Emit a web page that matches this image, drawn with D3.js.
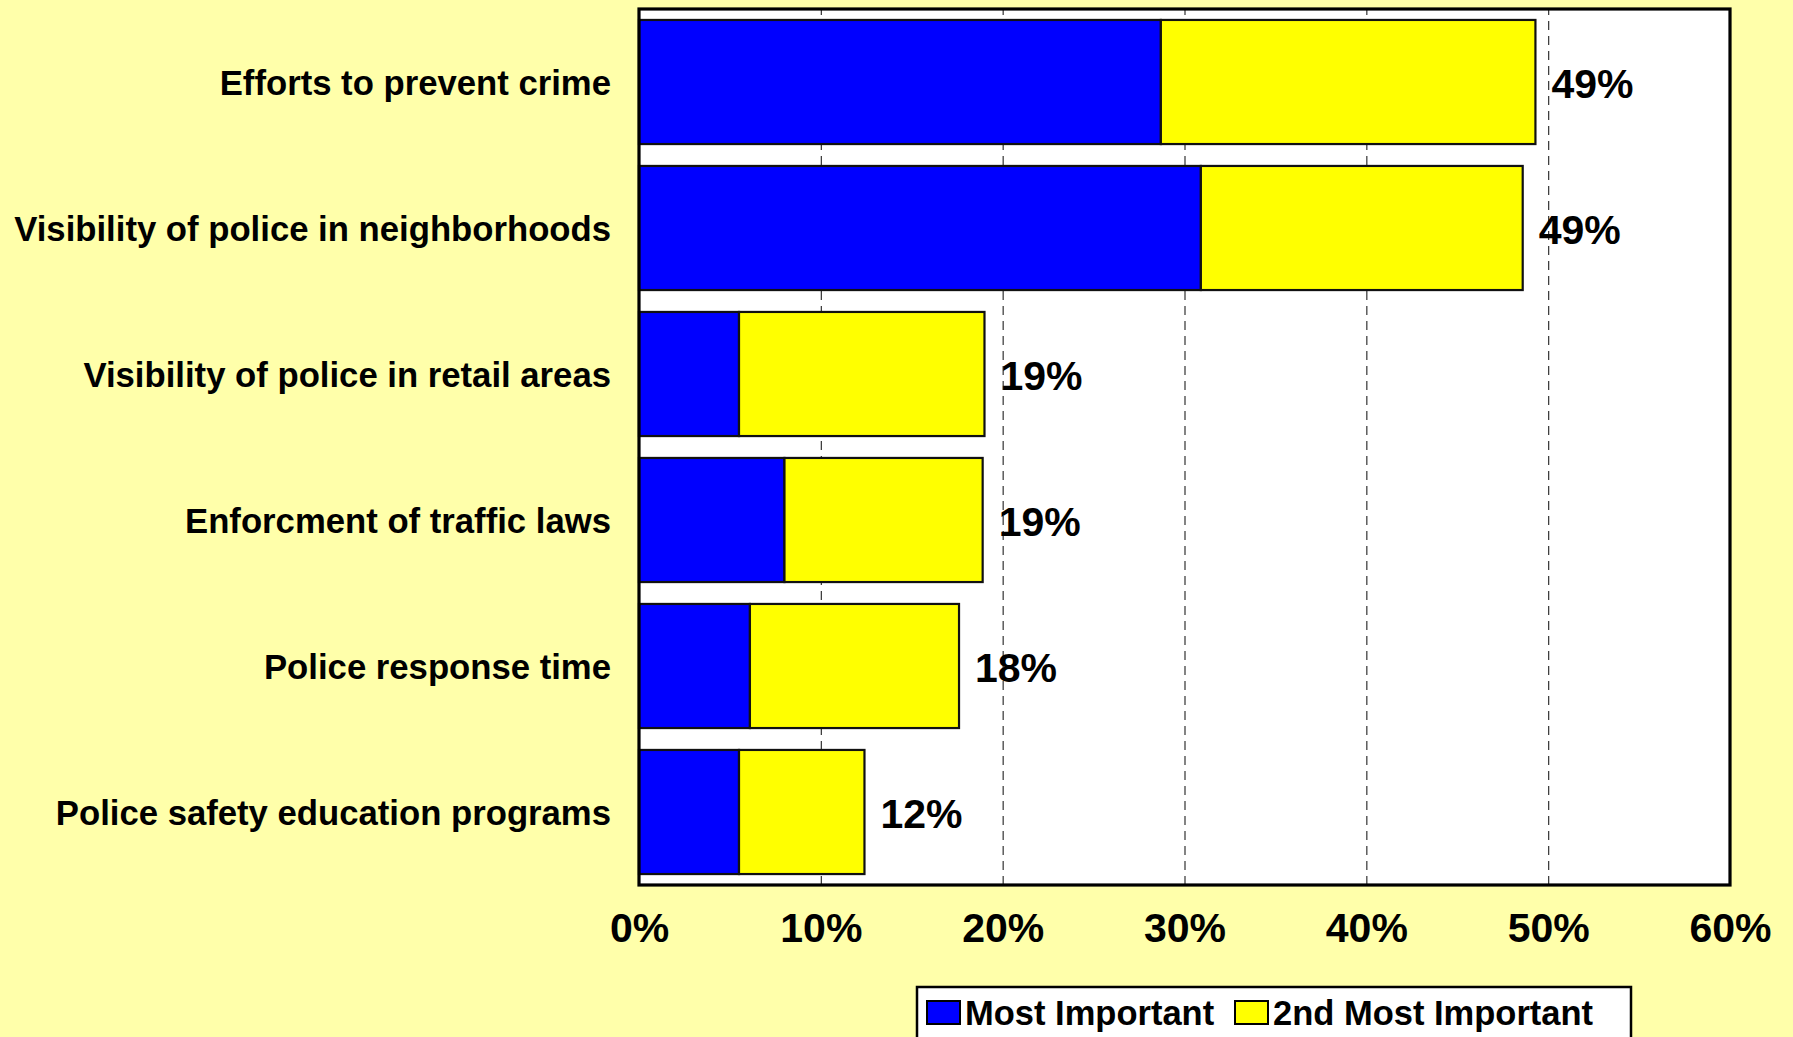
<!DOCTYPE html>
<html>
<head>
<meta charset="utf-8">
<script src="https://cdn.jsdelivr.net/npm/d3@7"></script>
<style>
  html, body { margin: 0; padding: 0; background: #FFFFAA; }
  svg { display: block; font-family: "Liberation Sans", Arial, Helvetica, sans-serif; font-weight: bold; }
</style>
</head>
<body>
<svg id="chart" width="1793" height="1037"></svg>
<script>
// Survey: most important police service priorities (percent of respondents)
const categories = [
  "Efforts to prevent crime",
  "Visibility of police in neighborhoods",
  "Visibility of police in retail areas",
  "Enforcment of traffic laws",
  "Police response time",
  "Police safety education programs"
];
const mostImportant   = [28.7, 30.9, 5.5, 8.0, 6.1, 5.5];
const secondImportant = [20.6, 17.7, 13.5, 10.9, 11.5, 6.9];
const seriesNames = ["Most Important", "2nd Most Important"];
const xTicks = [0, 10, 20, 30, 40, 50, 60];

const colors = { "Most Important": "#0000FF", "2nd Most Important": "#FFFF00" };

const rows = categories.map((c, i) => ({
  category: c,
  "Most Important": mostImportant[i],
  "2nd Most Important": secondImportant[i]
}));

const svg = d3.select("#chart");
const plot = { left: 639, right: 1730, top: 9, bottom: 885 };

const x = d3.scaleLinear().domain([0, 60]).range([plot.left, plot.right]);
const y = d3.scaleBand()
  .domain(categories)
  .range([plot.top, plot.bottom])
  .paddingInner(0.15)
  .paddingOuter(0.075);

// plot area background
svg.append("rect")
  .attr("x", plot.left).attr("y", plot.top)
  .attr("width", plot.right - plot.left).attr("height", plot.bottom - plot.top)
  .attr("fill", "#FFFFFF");

// dashed vertical gridlines
const grid = svg.append("g")
  .attr("transform", `translate(0,${plot.bottom})`)
  .call(d3.axisBottom(x).tickValues(xTicks.filter(t => t > 0 && t < 60))
    .tickSize(-(plot.bottom - plot.top)).tickFormat(""));
grid.select(".domain").remove();
grid.selectAll("line")
  .attr("stroke", "#333333").attr("stroke-width", 1.2)
  .attr("stroke-dasharray", "9,6");

// stacked bars
const stacked = d3.stack().keys(seriesNames)(rows);
svg.append("g")
  .selectAll("g")
  .data(stacked)
  .join("g")
  .attr("fill", d => colors[d.key])
  .selectAll("rect")
  .data(d => d)
  .join("rect")
  .attr("x", d => x(d[0]))
  .attr("y", d => y(d.data.category))
  .attr("width", d => x(d[1]) - x(d[0]))
  .attr("height", y.bandwidth())
  .attr("stroke", "#111111")
  .attr("stroke-width", 2.2);

// total labels
svg.append("g")
  .selectAll("text")
  .data(rows)
  .join("text")
  .attr("x", d => x(d["Most Important"] + d["2nd Most Important"]) + 16)
  .attr("y", d => y(d.category) + y.bandwidth() / 2)
  .attr("dy", "0.38em")
  .attr("font-size", 41)
  .attr("fill", "#000")
  .text(d => Math.round(d["Most Important"] + d["2nd Most Important"]) + "%");

// plot frame
svg.append("rect")
  .attr("x", plot.left).attr("y", plot.top)
  .attr("width", plot.right - plot.left).attr("height", plot.bottom - plot.top)
  .attr("fill", "none").attr("stroke", "#000").attr("stroke-width", 3.2);

// category axis labels
const yAxis = svg.append("g")
  .attr("transform", `translate(${plot.left - 28},0)`)
  .call(d3.axisLeft(y).tickSize(0).tickPadding(0));
yAxis.select(".domain").remove();
yAxis.selectAll("text")
  .attr("font-size", 34.7).attr("font-family", null).attr("fill", "#000")
  .attr("dy", "0.38em");

// x axis tick labels
const xAxis = svg.append("g")
  .attr("transform", `translate(0,${plot.bottom})`)
  .call(d3.axisBottom(x).tickValues(xTicks).tickSize(0).tickPadding(0)
    .tickFormat(d => d + "%"));
xAxis.select(".domain").remove();
xAxis.selectAll("text")
  .attr("font-size", 41).attr("font-family", null).attr("fill", "#000")
  .attr("dy", null).attr("y", 57);

// legend
const legend = svg.append("g");
legend.append("rect")
  .attr("x", 917).attr("y", 987).attr("width", 714).attr("height", 70)
  .attr("fill", "#FFFFFF").attr("stroke", "#000").attr("stroke-width", 2.5);
const legendX = [927, 1235];
seriesNames.forEach((name, i) => {
  legend.append("rect")
    .attr("x", legendX[i]).attr("y", 1001).attr("width", 33).attr("height", 23)
    .attr("fill", colors[name]).attr("stroke", "#000").attr("stroke-width", 2);
  legend.append("text")
    .attr("x", legendX[i] + 38).attr("y", 1025)
    .attr("font-size", 34.5).attr("fill", "#000")
    .text(name);
});
</script>
</body>
</html>
